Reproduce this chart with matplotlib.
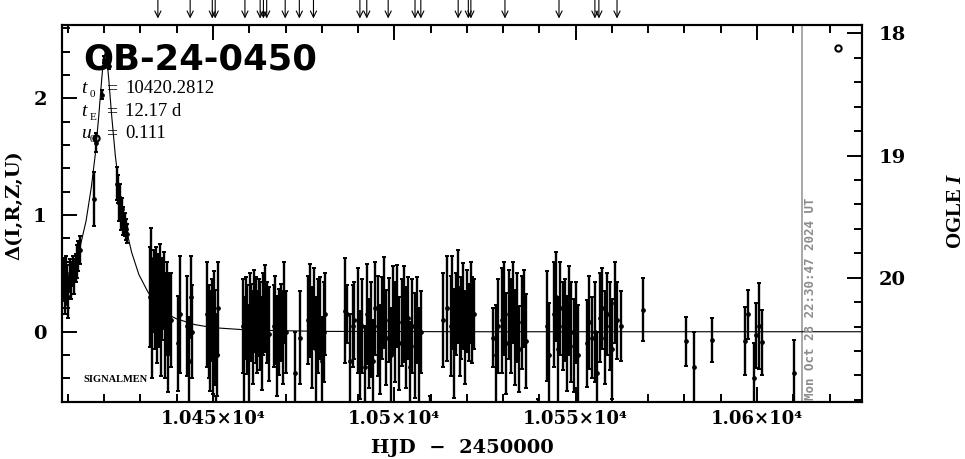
import matplotlib
matplotlib.use('Agg')
import matplotlib.pyplot as plt
from matplotlib.ticker import FixedLocator, MultipleLocator

plt.rcParams['mathtext.fontset'] = 'custom'
plt.rcParams['mathtext.it'] = 'Liberation Serif:italic:bold'
plt.rcParams['mathtext.rm'] = 'Liberation Serif:bold'

# ---------------- data ----------------
event_name = "OB-24-0450"
param_names = [("t", "0"), ("t", "E"), ("u", "0")]
param_values = ["10420.2812", "12.17 d", "0.111"]

hjd = [
    # pre-peak
    10408.6, 10408.9, 10409.2, 10409.5, 10409.8, 10410.1, 10410.5, 10410.9, 10411.3, 10411.7,
    10412.1, 10412.5, 10412.9, 10413.3,
    # peak
    10417.1, 10417.6, 10419.3, 10419.9, 10421.2,
    # decline
    10423.5, 10423.8, 10424.1, 10424.4, 10424.7, 10425.0, 10425.3, 10425.6, 10425.9, 10426.2,
    # 10432-10438
    10432.5, 10433.0, 10433.3, 10433.6, 10433.9, 10434.2, 10434.5, 10434.8, 10435.1, 10435.4,
    10435.7, 10436.0, 10436.4, 10436.8, 10437.2, 10437.6, 10438.0, 10438.4,
    # 10440-10444
    10440.3, 10440.9, 10442.9, 10443.4, 10443.8, 10444.2,
    # 10448-10451
    10448.4, 10448.9, 10449.3, 10449.7, 10450.0, 10450.3, 10450.6, 10450.8, 10451.0, 10451.3,
    # 10458-10465
    10458.2, 10458.6, 10459.0, 10459.4, 10459.8, 10460.2, 10460.6, 10461.0, 10461.4, 10461.8,
    10462.2, 10462.6, 10463.0, 10463.4, 10463.8, 10464.3, 10464.8, 10465.3,
    # 10466-10470
    10466.7, 10467.2, 10467.7, 10468.2, 10468.7, 10469.2, 10469.7, 10470.2,
    # 10472-10474
    10472.7, 10473.9,
    # 10476-10481
    10476.3, 10476.8, 10477.4, 10477.9, 10478.5, 10479.0, 10479.6, 10480.1, 10480.6, 10481.0,
    # 10486-10489
    10486.4, 10487.0, 10487.7, 10488.6, 10489.0,
    # 10490-10508
    10490.0, 10490.6, 10491.2, 10491.8, 10492.4, 10493.0, 10493.6, 10494.2, 10494.8, 10495.4,
    10496.0, 10496.6, 10497.2, 10497.8, 10498.4, 10499.0, 10499.6, 10500.2, 10500.8, 10501.4,
    10502.0, 10502.6, 10503.2, 10503.8, 10504.4, 10505.0, 10505.6, 10506.2, 10506.8, 10507.4,
    10509.7,
    # 10513-10522
    10513.4, 10514.6, 10515.5, 10516.0, 10516.5, 10517.0, 10517.5, 10518.0, 10518.5, 10519.0,
    10519.5, 10520.0, 10520.5, 10521.0, 10521.5, 10522.0,
    # 10527-10537
    10527.3, 10527.9, 10528.5, 10529.6, 10530.3, 10530.9, 10531.5, 10532.1, 10532.7, 10533.3,
    10533.9, 10534.5, 10535.1, 10535.7, 10536.3, 10539.7,
    # 10542-10551
    10542.1, 10542.6, 10544.0, 10544.6, 10545.2, 10545.8, 10546.4, 10547.0, 10547.6, 10548.2,
    10548.8, 10549.4, 10550.0, 10550.6,
    # 10553-10563
    10553.1, 10553.8, 10554.5, 10555.2, 10555.9, 10556.6, 10557.3, 10558.0, 10558.7, 10559.4,
    10560.1, 10560.8, 10561.5, 10562.5,
    # sparse late points
    10568.6, 10580.4, 10582.6, 10587.5, 10596.7, 10597.4, 10599.2, 10599.7, 10600.5, 10601.5,
    10610.3,
]

delta = [
    0.42, 0.45, 0.35, 0.50, 0.40, 0.30, 0.48, 0.44, 0.52, 0.47,
    0.55, 0.60, 0.65, 0.70,
    1.14, 1.62, 2.03, 2.33, 2.28,
    1.27, 1.22, 1.10, 1.15, 1.00, 1.05, 0.95, 0.92, 0.88, 0.84,
    0.30, 0.62, 0.10, 0.35, 0.25, 0.40, 0.18, 0.30, 0.22, 0.45,
    0.12, 0.28, 0.35, 0.05, 0.20, -0.05, 0.15, 0.10,
    -0.10, 0.15, 0.05, -0.25, 0.30, 0.00,
    0.15, 0.00, -0.08, 0.10, -0.15, 0.05, -0.05, -0.80, -0.20, 0.20,
    0.05, -0.15, 0.12, 0.02, -0.20, 0.15, 0.08, -0.05, 0.18, 0.10,
    0.00, 0.12, 0.05, -0.10, 0.15, 0.20, 0.08, -0.02,
    0.05, 0.10, -0.12, 0.00, 0.08, -0.05, 0.25, 0.00,
    -0.35, -0.05,
    0.10, 0.18, -0.05, 0.20, -0.15, 0.05, 0.12, -0.25, 0.00, 0.15,
    0.18, 0.15, -0.25, 0.05, 0.10,
    0.10, -0.20, 0.05, -0.30, 0.15, -0.10, 0.02, -0.25, 0.20, 0.05,
    -0.15, 0.12, 0.25, -0.05, 0.10, -0.20, 0.18, 0.00, 0.22, -0.10,
    0.08, 0.15, -0.05, 0.12, -0.30, 0.05, -0.12, 0.10, -0.20, 0.00,
    -0.80,
    0.10, 0.20, 0.05, 0.25, -0.10, 0.15, 0.30, 0.00, 0.12, 0.22,
    -0.05, 0.18, 0.08, 0.25, 0.10, 0.15,
    -0.05, -0.20, 0.05, 0.10, 0.20, -0.10, 0.15, 0.05, 0.25, -0.05,
    0.12, -0.15, 0.08, 0.20, -0.08, -0.80,
    0.05, -0.20, 0.15, 0.30, -0.15, 0.20, 0.05, 0.10, -0.10, 0.18,
    0.00, -0.12, 0.08, -0.20,
    -0.10, 0.08, -0.05, 0.00, -0.35, 0.12, 0.20, -0.05, 0.15, 0.05,
    -0.15, 0.25, 0.10, 0.05,
    0.19, -0.08, -0.30, -0.07, -0.08, 0.15, -0.40, -0.03, 0.05, -0.09,
    -0.35,
]

err = [
    0.16, 0.18, 0.20, 0.15, 0.17, 0.18, 0.14, 0.16, 0.13, 0.15,
    0.12, 0.14, 0.13, 0.12,
    0.23, 0.08, 0.04, 0.03, 0.03,
    0.14, 0.12, 0.15, 0.12, 0.13, 0.10, 0.12, 0.10, 0.09, 0.08,
    0.43, 0.27, 0.50, 0.35, 0.40, 0.33, 0.45, 0.37, 0.35, 0.30,
    0.50, 0.35, 0.33, 0.45, 0.40, 0.47, 0.35, 0.40,
    0.41, 0.50, 0.43, 0.38, 0.35, 0.40,
    0.45, 0.40, 0.43, 0.35, 0.38, 0.47, 0.41, 0.25, 0.35, 0.40,
    0.40, 0.45, 0.35, 0.38, 0.43, 0.35, 0.33, 0.40, 0.35, 0.37,
    0.35, 0.33, 0.38, 0.40, 0.35, 0.37, 0.35, 0.40,
    0.35, 0.38, 0.43, 0.37, 0.33, 0.40, 0.35, 0.35,
    0.35, 0.40,
    0.38, 0.40, 0.43, 0.35, 0.45, 0.40, 0.35, 0.38, 0.43, 0.35,
    0.45, 0.25, 0.40, 0.35, 0.33,
    0.45, 0.38, 0.40, 0.35, 0.43, 0.38, 0.41, 0.35, 0.40, 0.43,
    0.38, 0.35, 0.39, 0.41, 0.36, 0.40, 0.38, 0.43, 0.35, 0.40,
    0.37, 0.41, 0.43, 0.35, 0.38, 0.40, 0.45, 0.37, 0.40, 0.35,
    0.25,
    0.40, 0.45, 0.43, 0.40, 0.47, 0.35, 0.40, 0.38, 0.35, 0.37,
    0.40, 0.35, 0.33, 0.35, 0.37, 0.30,
    0.25, 0.43, 0.40, 0.45, 0.40, 0.43, 0.38, 0.40, 0.35, 0.41,
    0.38, 0.37, 0.40, 0.33, 0.40, 0.22,
    0.47, 0.45, 0.45, 0.38, 0.45, 0.40, 0.38, 0.35, 0.41, 0.38,
    0.43, 0.40, 0.35, 0.43,
    0.37, 0.40, 0.35, 0.43, 0.35, 0.38, 0.35, 0.40, 0.35, 0.38,
    0.43, 0.35, 0.33, 0.30,
    0.27, 0.21, 0.30, 0.19, 0.29, 0.21, 0.30, 0.28, 0.37, 0.28,
    0.28,
]

# model curve
model_t = [10408.36, 10411.0, 10413.0, 10415.0, 10416.5, 10417.5, 10418.5, 10419.3, 10419.8, 10420.28,
           10420.76, 10421.26, 10422.06, 10423.06, 10424.06, 10425.56, 10427.56, 10429.56, 10432.06,
           10436.0, 10440.0, 10445.0, 10450.0, 10460.0, 10480.0, 10520.0, 10628.95]
model_d = [0.36, 0.49, 0.68, 0.95, 1.25, 1.51, 1.85, 2.16, 2.33, 2.39,
           2.33, 2.16, 1.85, 1.51, 1.25, 0.95, 0.68, 0.49, 0.34,
           0.17, 0.11, 0.061, 0.035, 0.014, 0.003, 0.0, 0.0]

# OGLE I points (open circles, right axis)
ogle_t = [10417.6, 10622.3]
ogle_mag = [18.86, 18.12]

# observation arrows on top
arrow_t = [10434.8, 10443.7, 10449.8, 10450.6, 10458.8, 10463.0, 10463.9, 10464.8, 10469.9, 10473.8,
           10477.7, 10490.5, 10492.4, 10498.3, 10505.7, 10507.3, 10517.6, 10520.4, 10521.1, 10530.5,
           10545.4, 10555.3, 10556.4, 10561.4]

now_t = 10612.4
now_label = "Mon Oct 28 22:30:47 2024 UT"

xticks = [10450, 10500, 10550, 10600]
xtick_labels = ["1.045×10⁴", "1.05×10⁴", "1.055×10⁴", "1.06×10⁴"]
yticks = [0, 1, 2]
ytick_labels = ["0", "1", "2"]
mticks = [18, 19, 20]
mtick_labels = ["18", "19", "20"]

# ---------------- figure ----------------
W, H = 965, 459
fig = plt.figure(figsize=(W / 100, H / 100), dpi=100)
L, R, T, B = 62, 862, 25, 402
ax = fig.add_axes([L / W, 1 - B / H, (R - L) / W, (B - T) / H])


def fx(x):
    return x / W


def fy(y):
    return 1 - y / H


ax.errorbar(hjd, delta, yerr=err, fmt='o', ms=2.4, color='k', ecolor='k',
            elinewidth=1.7, capsize=1.5, capthick=1.4, zorder=3)
ax.plot(model_t, model_d, color='k', lw=0.8, zorder=4)
ax.axvline(now_t, color='#9a9a9a', lw=1.2, zorder=2)

ax.set_xlim(10408.36, 10628.95)
ax.set_ylim(-0.602, 2.628)

ax.xaxis.set_major_locator(FixedLocator(xticks))
ax.set_xticklabels(xtick_labels)
ax.xaxis.set_minor_locator(MultipleLocator(10))
ax.yaxis.set_major_locator(FixedLocator(yticks))
ax.set_yticklabels(ytick_labels)
ax.yaxis.set_minor_locator(MultipleLocator(0.2))

for s in ax.spines.values():
    s.set_linewidth(1.5)

ax.tick_params(axis='x', which='both', direction='in', top=True, bottom=True, width=1.4)
ax.tick_params(axis='x', which='major', length=10.5, pad=6)
ax.tick_params(axis='x', which='minor', length=5.5)
ax.tick_params(axis='y', which='both', direction='in', left=True, right=False, width=1.4)
ax.tick_params(axis='y', which='major', length=10.5, pad=11)
ax.tick_params(axis='y', which='minor', length=5.5)
for lab in ax.get_xticklabels():
    lab.set_fontfamily('DejaVu Serif')
    lab.set_fontweight('bold')
    lab.set_fontsize(13)
for lab in ax.get_yticklabels():
    lab.set_fontfamily('DejaVu Serif')
    lab.set_fontweight('bold')
    lab.set_fontsize(14)

ax2 = ax.twinx()
ax2.set_position(ax.get_position())
ax2.set_ylim(21.017, 17.932)
ax2.plot(ogle_t, ogle_mag, 'o', mfc='none', mec='k', mew=1.5, ms=4.5, clip_on=False)
ax2.yaxis.set_major_locator(FixedLocator(mticks))
ax2.set_yticklabels(mtick_labels)
ax2.yaxis.set_minor_locator(MultipleLocator(0.2))
ax2.tick_params(axis='y', which='both', direction='in', left=False, right=True, width=1.4)
ax2.tick_params(axis='y', which='major', length=10.5, pad=12)
ax2.tick_params(axis='y', which='minor', length=5.5)
for s in ax2.spines.values():
    s.set_linewidth(1.5)
for lab in ax2.get_yticklabels():
    lab.set_fontfamily('DejaVu Serif')
    lab.set_fontweight('bold')
    lab.set_fontsize(14)

# arrows
for t in arrow_t:
    ax.annotate('', xy=(t, 1 + 6.5 / 377), xytext=(t, 1 + 25 / 377),
                xycoords=('data', 'axes fraction'), textcoords=('data', 'axes fraction'),
                arrowprops=dict(arrowstyle='->,head_length=0.45,head_width=0.22', lw=0.8,
                                color='k', shrinkA=0, shrinkB=0),
                annotation_clip=False)

# texts
fig.text(fx(83), fy(70), event_name, family='DejaVu Sans', weight='bold', size=25.5,
         va='baseline', ha='left')
rows_base = [93.3, 116.5, 138.5]
for (sym, sub), val, yb in zip(param_names, param_values, rows_base):
    fig.text(fx(81), fy(yb), sym, family='Liberation Serif', style='italic', size=14, va='baseline')
    fig.text(fx(90), fy(yb + 4), sub, family='Liberation Serif', size=8, va='baseline')
    fig.text(fx(106), fy(yb), '=', family='Liberation Serif', size=14, va='baseline')
    fig.text(fx(125), fy(yb), val, family='Liberation Serif', size=13.5, va='baseline')

fig.text(fx(83), fy(380), 'SIGNALMEN', family='Liberation Serif', weight='bold', size=7.5,
         va='center', ha='left')
fig.text(fx(810), fy(400), now_label, rotation=90, ha='center', va='bottom',
         family='DejaVu Sans Mono', weight='bold', size=9, color='#8c8c8c')

fig.text(fx(462), fy(448), 'HJD  −  2450000', family='DejaVu Serif', weight='bold', size=14,
         ha='center', va='center')
fig.text(fx(14), fy(205), 'Δ(I,R,Z,U)', family='DejaVu Serif', weight='bold', size=14,
         rotation=90, ha='center', va='center')
fig.text(fx(956), fy(211), 'OGLE $I$', family='Liberation Serif', weight='bold', size=15,
         rotation=90, ha='center', va='center')

fig.savefig('out.png', dpi=100)
